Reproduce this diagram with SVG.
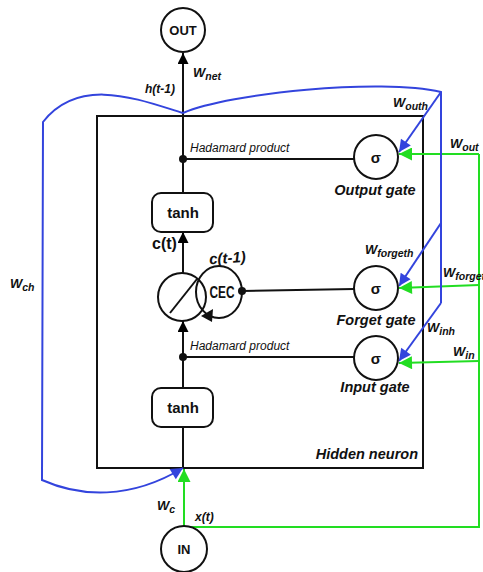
<svg xmlns="http://www.w3.org/2000/svg" width="483" height="572" viewBox="0 0 483 572">
<defs>
<marker id="abk" viewBox="0 0 10 10" refX="10" refY="5" markerWidth="14" markerHeight="11" orient="auto" markerUnits="userSpaceOnUse">
<path d="M0,0 L10,5 L0,10 z" fill="#000"/>
</marker>
<marker id="ag" viewBox="0 0 10 10" refX="10" refY="5" markerWidth="16" markerHeight="13" orient="auto" markerUnits="userSpaceOnUse">
<path d="M0,0 L10,5 L0,10 z" fill="#22dd22"/>
</marker>
<marker id="abl" viewBox="0 0 10 10" refX="10" refY="5" markerWidth="16" markerHeight="12" orient="auto" markerUnits="userSpaceOnUse">
<path d="M0,0 L10,5 L0,10 z" fill="#3344dd"/>
</marker>
</defs>
<style>
.ln{stroke:#111;stroke-width:2;fill:none}
.nd{stroke:#111;stroke-width:2;fill:#fff}
.bl{stroke:#3344dd;stroke-width:2;fill:none}
.gr{stroke:#22dd22;stroke-width:2;fill:none}
text{font-family:"Liberation Sans",Arial,sans-serif;fill:#111}
.b{font-weight:bold}
.bi{font-weight:bold;font-style:italic}
.it{font-style:italic;font-size:12px}
.lab{font-weight:bold;font-style:italic;font-size:14.5px}
.w{font-weight:bold;font-style:italic;font-size:13px}
.sub{font-size:10.5px}
</style>
<rect x="0" y="0" width="483" height="572" fill="#fff"/>

<g id="hidden-neuron">
<rect x="97" y="116" width="326" height="352" class="ln"/>
<text x="418" y="459" text-anchor="end" class="lab" font-size="16">Hidden neuron</text>
</g>

<g id="connectors">
<line x1="183" y1="468" x2="183" y2="427" class="ln"/>
<line x1="183" y1="388" x2="183" y2="321" class="ln" marker-end="url(#abk)"/>
<line x1="183" y1="273" x2="183" y2="232" class="ln" marker-end="url(#abk)"/>
<line x1="183" y1="193" x2="183" y2="116" class="ln"/>
<line x1="183" y1="116" x2="183" y2="53" class="ln" marker-end="url(#abk)"/>
<line x1="183" y1="159" x2="354" y2="159" class="ln"/>
<line x1="183" y1="357" x2="354" y2="357" class="ln"/>
<line x1="242" y1="291" x2="354" y2="289" class="ln"/>
<circle cx="183" cy="159" r="4" fill="#111"/>
<circle cx="183" cy="357" r="4" fill="#111"/>
<path d="M184,527 L479,527 L479,154" class="gr"/>
<line x1="184" y1="527" x2="184" y2="469" class="gr" marker-end="url(#ag)"/>
<line x1="479" y1="154" x2="399" y2="154" class="gr" marker-end="url(#ag)"/>
<line x1="479" y1="285" x2="399" y2="288" class="gr" marker-end="url(#ag)"/>
<line x1="479" y1="361" x2="399" y2="363" class="gr" marker-end="url(#ag)"/>
<path d="M183,113 C140,100 80,75 43,122 L42,480 C80,497 130,500 183,468" class="bl" marker-end="url(#abl)"/>
<path d="M183,113 C230,93 380,78 441,92 L441,303" class="bl"/>
<line x1="441" y1="92" x2="399" y2="152" class="bl" marker-end="url(#abl)"/>
<line x1="441" y1="223" x2="399" y2="286" class="bl" marker-end="url(#abl)"/>
<line x1="441" y1="303" x2="399" y2="361" class="bl" marker-end="url(#abl)"/>
</g>

<g id="out">
<circle cx="183" cy="30" r="22" class="nd"/>
<text x="183" y="35" text-anchor="middle" class="b" font-size="13">OUT</text>
</g>
<g id="in">
<circle cx="184" cy="549" r="23" class="nd"/>
<text x="184" y="554" text-anchor="middle" class="b" font-size="13">IN</text>
</g>

<g id="tanh-top">
<rect x="152" y="193" width="61" height="39" rx="9" class="nd"/>
<text x="183" y="218" text-anchor="middle" class="b" font-size="15">tanh</text>
</g>
<g id="tanh-bottom">
<rect x="152" y="388" width="61" height="39" rx="9" class="nd"/>
<text x="183" y="413" text-anchor="middle" class="b" font-size="15">tanh</text>
</g>

<g id="cec">
<ellipse cx="219" cy="292" rx="23" ry="26" fill="none" stroke="#111" stroke-width="2"/>
<polygon points="201,316 213,309 212,322" fill="#111"/>
<circle cx="242" cy="291" r="4" fill="#111"/>
<text x="222" y="298" text-anchor="middle" class="b" font-size="16" textLength="25" lengthAdjust="spacingAndGlyphs">CEC</text>
</g>
<g id="sum">
<circle cx="182" cy="297" r="24" fill="none" stroke="#111" stroke-width="2"/>
<line x1="170" y1="313" x2="197" y2="279" class="ln"/>
</g>

<g id="output-gate">
<circle cx="376" cy="157" r="22" class="nd"/>
<text x="376" y="163" text-anchor="middle" class="b" font-size="15">σ</text>
<text x="375" y="195" text-anchor="middle" class="lab">Output gate</text>
</g>
<g id="forget-gate">
<circle cx="376" cy="288" r="22" class="nd"/>
<text x="376" y="294" text-anchor="middle" class="b" font-size="15">σ</text>
<text x="376" y="325" text-anchor="middle" class="lab">Forget gate</text>
</g>
<g id="input-gate">
<circle cx="376" cy="358" r="22" class="nd"/>
<text x="376" y="364" text-anchor="middle" class="b" font-size="15">σ</text>
<text x="375" y="392" text-anchor="middle" class="lab">Input gate</text>
</g>

<g id="labels">
<text x="190" y="152" class="it">Hadamard product</text>
<text x="190" y="350" class="it">Hadamard product</text>
<text x="152" y="249" class="b" font-size="16">c(t)</text>
<text x="209" y="263" class="bi" font-size="15" transform="rotate(-4 228 258)">c(t-1)</text>
<text x="193" y="77" class="w">W<tspan class="sub" dy="3">net</tspan></text>
<text x="145" y="93" class="bi" font-size="12">h(t-1)</text>
<text x="393" y="107" class="w">W<tspan class="sub" dy="3">outh</tspan></text>
<text x="450" y="148" class="w">W<tspan class="sub" dy="3">out</tspan></text>
<text x="365" y="254" class="w">W<tspan class="sub" dy="3">forgeth</tspan></text>
<text x="443" y="277" class="w">W<tspan class="sub" dy="3">forget</tspan></text>
<text x="427" y="332" class="w">W<tspan class="sub" dy="3">inh</tspan></text>
<text x="453" y="356" class="w">W<tspan class="sub" dy="3">in</tspan></text>
<text x="10" y="288" class="w">W<tspan class="sub" dy="3">ch</tspan></text>
<text x="157" y="510" class="w">W<tspan class="sub" dy="3">c</tspan></text>
<text x="195" y="521" class="bi" font-size="12">x(t)</text>
</g>
</svg>
